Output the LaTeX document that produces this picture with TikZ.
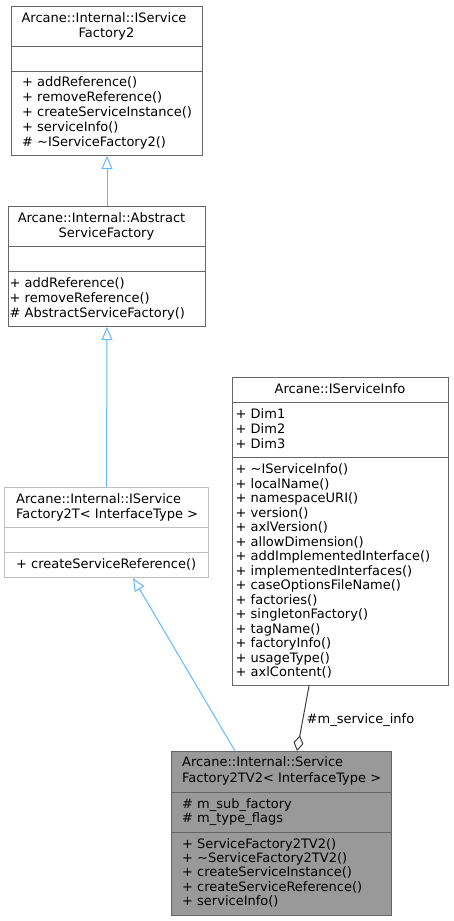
\documentclass[tikz,border=0pt]{standalone}
\usepackage{fontspec}
\setmainfont{DejaVu Sans}
\usetikzlibrary{arrows.meta}

\definecolor{edgeblue}{HTML}{63B8FF}
\definecolor{boxline}{HTML}{666666}
\definecolor{boxlight}{HTML}{BFBFBF}
\definecolor{boxfill}{HTML}{999999}
\definecolor{aggline}{HTML}{404040}

\tikzset{
  classbox/.style={draw=boxline, line width=1pt, inner sep=0pt, anchor=north west},
  sepline/.style={draw=boxline, line width=1pt},
  member/.style={anchor=base west, inner sep=0pt},
  ctitle/.style={anchor=base, inner sep=0pt},
  inherit/.style={draw=edgeblue, line width=1pt,
    -{Triangle[open, length=13pt, width=11pt, fill=white]}},
  aggregate/.style={draw=aggline, line width=1pt,
    -{Diamond[open, length=16pt, width=10pt, fill=white]}},
}

\begin{document}
\begin{tikzpicture}[x=1pt, y=-1pt, font=\fontsize{13}{15}\selectfont]
\useasboundingbox (0,0) rectangle (453,921);
% IServiceFactory2
\node[classbox, minimum width=191pt, minimum height=149pt] (isf2) at (11,6) {};
\draw[sepline] ([yshift=-40]isf2.north west) -- ([yshift=-40]isf2.north east);
\draw[sepline] ([yshift=-65]isf2.north west) -- ([yshift=-65]isf2.north east);
\node[ctitle] (isf2-t1) at (104,22) {Arcane::Internal::IService};
\node[ctitle] (isf2-t2) at (106.5,37) {Factory2};
\foreach \txt [count=\i from 0] in {+ addReference(), + removeReference(),
    + createServiceInstance(), + serviceInfo(), \# \textasciitilde IServiceFactory2()}
  \node[member] (isf2-m\i) at (22,86.5+15*\i) {\txt};
% AbstractServiceFactory
\node[classbox, minimum width=197pt, minimum height=120pt] (asf) at (8,206) {};
\draw[sepline] ([yshift=-40]asf.north west) -- ([yshift=-40]asf.north east);
\draw[sepline] ([yshift=-65]asf.north west) -- ([yshift=-65]asf.north east);
\node[ctitle] (asf-t1) at (101.5,222) {Arcane::Internal::Abstract};
\node[ctitle] (asf-t2) at (106.5,237) {ServiceFactory};
\foreach \txt [count=\i from 0] in {+ addReference(), + removeReference(),
    \# AbstractServiceFactory()}
  \node[member] (asf-m\i) at (9.5,287+15*\i) {\txt};
% IServiceFactory2T< InterfaceType >
\node[classbox, draw=boxlight, minimum width=204pt, minimum height=90pt] (isf2t) at (4,487) {};
\draw[sepline, draw=boxlight] ([yshift=-40]isf2t.north west) -- ([yshift=-40]isf2t.north east);
\draw[sepline, draw=boxlight] ([yshift=-65]isf2t.north west) -- ([yshift=-65]isf2t.north east);
\node[member] (isf2t-t1) at (16,503.5) {Arcane::Internal::IService};
\node[member] (isf2t-t2) at (16,518) {Factory2T< InterfaceType >};
\node[member] (isf2t-m0) at (16,568.5) {+ createServiceReference()};
% IServiceInfo
\node[classbox, minimum width=216pt, minimum height=308pt] (sinfo) at (232,377) {};
\draw[sepline] ([yshift=-25]sinfo.north west) -- ([yshift=-25]sinfo.north east);
\draw[sepline] ([yshift=-80]sinfo.north west) -- ([yshift=-80]sinfo.north east);
\node[ctitle] (sinfo-t1) at (340,393.5) {Arcane::IServiceInfo};
\foreach \txt [count=\i from 0] in {+ Dim1, + Dim2, + Dim3}
  \node[member] (sinfo-a\i) at (235.5,418+15*\i) {\txt};
\foreach \txt [count=\i from 0] in {+ \textasciitilde IServiceInfo(), + localName(),
    + namespaceURI(), + version(), + axlVersion(), + allowDimension(),
    + addImplementedInterface(), + implementedInterfaces(),
    + caseOptionsFileName(), + factories(), + singletonFactory(), + tagName(),
    + factoryInfo(), + usageType(), + axlContent()}
  \node[member] (sinfo-m\i) at (235.5,473.5+14.5*\i) {\txt};
% ServiceFactory2TV2< InterfaceType >
\node[classbox, fill=boxfill, minimum width=220pt, minimum height=164pt] (sf2tv2) at (171,751) {};
\draw[sepline] ([yshift=-41]sf2tv2.north west) -- ([yshift=-41]sf2tv2.north east);
\draw[sepline] ([yshift=-81]sf2tv2.north west) -- ([yshift=-81]sf2tv2.north east);
\node[member] (sf2tv2-t1) at (182,766.5) {Arcane::Internal::Service};
\node[member] (sf2tv2-t2) at (182,782) {Factory2TV2< InterfaceType >};
\foreach \txt [count=\i from 0] in {\# m\_sub\_factory, \# m\_type\_flags}
  \node[member] (sf2tv2-a\i) at (182,808+14.4*\i) {\txt};
\foreach \txt [count=\i from 0] in {+ ServiceFactory2TV2(), + \textasciitilde ServiceFactory2TV2(),
    + createServiceInstance(), + createServiceReference(), + serviceInfo()}
  \node[member] (sf2tv2-m\i) at (182,848+14.4*\i) {\txt};
% edges
\draw[inherit] (asf.north) -- (isf2.south);
\draw[inherit] (isf2t.north) -- (asf.south);
\draw[inherit] ([xshift=64]sf2tv2.north west) -- ([xshift=129]isf2t.south west);
\draw[aggregate] ([xshift=77]sinfo.south west) -- ([xshift=126]sf2tv2.north west);
\node[member] (agg-lbl) at (306.5,723.5) {\#m\_service\_info};
\end{tikzpicture}
\end{document}
